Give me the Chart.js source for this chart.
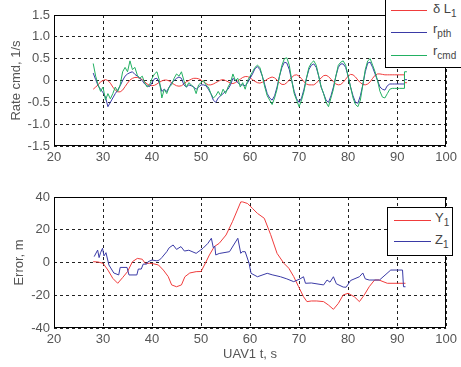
<!DOCTYPE html>
<html>
<head>
<meta charset="utf-8">
<script src="https://cdn.jsdelivr.net/npm/chart.js@4.4.0/dist/chart.umd.min.js"></script>
<style>
  body { margin: 0; background: #fff; }
  #wrap { position: relative; width: 461px; height: 367px; overflow: hidden; background: #fff;
          font-family: "Liberation Sans", Arial, sans-serif; color: #555; }
  canvas { position: absolute; left: 0; }
  .legend { position: absolute; background: #fff; border: 1px solid #000; }
  .swatch { position: absolute; height: 0; border-top: 1px solid; }
  .lbl { position: absolute; font-size: 13px; line-height: 15px; white-space: nowrap; color: #444; }
  .lbl sub { font-size: 10px; vertical-align: -4px; line-height: 0; }
</style>
</head>
<body>
<div id="wrap">
  <canvas id="rate_chart" width="461" height="183" style="top:0"></canvas>
  <canvas id="error_chart" width="461" height="184" style="top:183px"></canvas>

  <div class="legend" style="left:385px; top:-2px; width:90px; height:68px;"></div>
  <div class="swatch" style="left:391px; top:10px; width:36px; border-color:#f03c3c"></div>
  <div class="swatch" style="left:391px; top:32px; width:36px; border-color:#3a3aa6"></div>
  <div class="swatch" style="left:391px; top:55px; width:36px; border-color:#22b062"></div>
  <div class="lbl" style="left:433px; top:1px;">&delta; L<sub>1</sub></div>
  <div class="lbl" style="left:433px; top:21px;">r<sub>pth</sub></div>
  <div class="lbl" style="left:433px; top:43px;">r<sub>cmd</sub></div>

  <div class="legend" style="left:387px; top:207px; width:64px; height:47px;"></div>
  <div class="swatch" style="left:394px; top:220px; width:37px; border-color:#f03c3c"></div>
  <div class="swatch" style="left:394px; top:241px; width:37px; border-color:#3a3aa6"></div>
  <div class="lbl" style="left:435px; top:210px;">Y<sub>1</sub></div>
  <div class="lbl" style="left:435px; top:232px;">Z<sub>1</sub></div>
</div>
<script>
// top panel: rate commands
var rateTime = [28,28.5,29,29.5,30,30.5,31,31.5,32,32.5,
  33,33.5,34,34.5,35,35.5,36,36.5,37,37.5,
  38,38.5,39,39.5,40,40.5,41,41.5,42,42.5,
  43,43.5,44,44.5,45,45.5,46,46.5,47,47.5,
  48,48.5,49,49.5,50,50.5,51,51.5,52,52.5,
  53,53.5,54,54.5,55,55.5,56,56.5,57,57.5,
  58,58.5,59,59.5,60,60.5,61,61.5,62,62.5,
  63,63.5,64,64.5,65,65.5,66,66.5,67,67.5,
  68,68.5,69,69.5,70,70.5,71,71.5,72,72.5,
  73,73.5,74,74.5,75,75.5,76,76.5,77,77.5,
  78,78.5,79,79.5,80,80.5,81,81.5,82,82.5,
  83,83.5,84,84.5,85,85.5,86,86.5,87,87.5,
  88,88.5,89,89.5,90,90.5,91,91.5,91.5,92];

var deltaL1 = [-0.2,-0.15,-0.1,-0.03,0.0,0.02,0.0,-0.06,-0.15,-0.22,
  -0.26,-0.26,-0.22,-0.14,-0.06,0.01,0.05,0.07,0.07,0.05,
  0.02,-0.03,-0.08,-0.11,-0.12,-0.11,-0.08,-0.04,-0.01,0.01,
  0.01,-0.01,-0.05,-0.09,-0.12,-0.13,-0.12,-0.08,-0.03,0.0,
  0.03,0.05,0.05,0.04,0.01,-0.03,-0.07,-0.1,-0.1,-0.08,
  -0.05,-0.02,0.01,0.02,0.0,-0.03,-0.06,-0.07,-0.05,-0.01,
  0.03,0.07,0.09,0.09,0.06,0.02,-0.02,-0.05,-0.06,-0.04,
  -0.01,0.03,0.06,0.08,0.06,0.01,-0.05,-0.09,-0.09,-0.05,
  0.01,0.07,0.12,0.13,0.1,0.04,-0.03,-0.08,-0.1,-0.1,
  -0.1,-0.06,0.0,0.06,0.11,0.12,0.09,0.03,-0.03,-0.08,
  -0.1,-0.09,-0.04,0.03,0.1,0.14,0.13,0.08,0.01,-0.05,
  -0.09,-0.1,-0.08,-0.03,0.05,0.12,0.15,0.15,0.14,0.13,
  0.13,0.13,0.13,0.13,0.13,0.13,0.13,0.13,-0.05,-0.05];

var rPth = [0.17,0.02,-0.12,-0.2,-0.28,-0.38,-0.6,-0.5,-0.4,-0.3,
  -0.22,-0.12,0.0,0.1,0.15,0.18,0.2,0.14,0.1,0.05,
  0.0,-0.08,-0.12,-0.14,-0.05,0.04,0.05,-0.06,-0.25,-0.2,
  -0.25,-0.15,-0.05,0.0,0.05,0.08,0.05,-0.1,-0.15,-0.1,
  -0.12,-0.15,-0.2,-0.15,-0.1,-0.1,-0.12,-0.2,-0.3,-0.45,
  -0.5,-0.4,-0.35,-0.3,-0.25,-0.2,-0.1,0.05,0.0,-0.05,
  -0.1,-0.1,-0.12,-0.05,0.05,0.15,0.27,0.32,0.25,0.1,
  -0.1,-0.3,-0.4,-0.45,-0.35,-0.15,0.1,0.3,0.42,0.4,
  0.25,0.0,-0.25,-0.42,-0.5,-0.4,-0.2,0.05,0.25,0.35,
  0.38,0.3,0.1,-0.15,-0.3,-0.45,-0.5,-0.35,-0.15,0.1,
  0.3,0.38,0.38,0.3,0.1,-0.15,-0.35,-0.5,-0.52,-0.35,
  -0.1,0.2,0.4,0.42,0.3,0.15,0.0,-0.15,-0.2,-0.22,
  -0.12,-0.08,-0.08,-0.08,-0.08,-0.08,-0.08,-0.08,0.02,0.02];

var rCmd = [0.39,0.1,-0.1,-0.25,-0.15,-0.45,-0.3,-0.42,-0.3,-0.15,
  -0.25,-0.1,0.2,0.3,0.2,0.45,0.25,0.3,0.12,0.05,
  0.1,-0.05,-0.15,-0.1,0.05,0.15,0.2,0.0,-0.4,-0.2,
  -0.3,-0.15,-0.1,0.05,0.15,0.1,0.2,0.0,-0.15,-0.05,
  -0.1,-0.15,-0.3,-0.1,-0.05,0.0,-0.1,-0.15,-0.3,-0.4,
  -0.35,-0.25,-0.35,-0.2,-0.3,-0.15,-0.05,0.15,0.0,0.05,
  -0.15,-0.05,-0.2,0.0,0.1,0.2,0.3,0.35,0.3,0.1,
  -0.15,-0.35,-0.45,-0.55,-0.4,-0.2,0.1,0.35,0.5,0.52,
  0.35,0.0,-0.3,-0.45,-0.6,-0.45,-0.25,0.05,0.3,0.4,
  0.45,0.35,0.1,-0.15,-0.3,-0.5,-0.6,-0.4,-0.2,0.1,
  0.35,0.42,0.45,0.35,0.1,-0.15,-0.4,-0.55,-0.6,-0.45,
  -0.1,0.25,0.45,0.5,0.35,0.2,0.0,-0.25,-0.38,-0.4,
  -0.3,-0.2,-0.18,-0.18,-0.18,-0.18,-0.18,-0.18,0.2,0.2];

// bottom panel: position errors
var y1Time = [28,29,30,31,32,33,34,35,36,37,
  38,38.6,39.5,40.3,41.3,42.3,43.3,44,45,46,
  46.7,47.7,49,50,50.7,51.7,52.7,53.7,55.1,56.4,
  57.4,58.1,58.5,59.5,60.5,61.5,62.9,64.2,65.5,66.9,
  67.9,68.9,69.9,70.9,71.6,72.5,73.6,75,76,77,
  78,79,80,81.3,82.3,83.3,84.3,85.4,86.3,88,91.7];
var y1Err = [0.5,0.3,-0.5,-4.6,-9.7,-12.7,-9.2,-5.6,0.5,2.5,
  2.0,-0.5,-0.5,-0.8,-1.5,-4.6,-8.6,-13.7,-14.8,-13.7,
  -8.7,-6.4,-5.6,-5.5,-1.5,4.6,9.7,11.7,16.8,24.9,
  32,37,37,36,33,30,27,17,5.6,-0.5,
  -3.5,-8.6,-14.8,-20.9,-23.9,-23.5,-23.5,-23.9,-26,-28.6,
  -25,-19.8,-18.8,-21,-23.9,-19.8,-14.8,-10.7,-10.7,-12.7,-12.7];

var z1Time = [28.2,28.9,29.2,29.5,29.9,30.2,30.6,31.2,32.2,33.2,
  33.5,34.9,35.3,36.9,37.2,37.8,38.2,38.9,39.2,40,
  41,41.5,42,43,43.5,44.3,45,45.9,46.6,47.5,
  49,50.4,51.4,52.1,52.5,52.8,53,53.7,55.8,57.5,
  58.1,58.4,59,59.8,60.2,61.5,63.5,64.5,66.2,67.5,
  68.9,70.2,70.9,71.3,72.5,75,75.7,76.3,77,77.6,
  79,79.6,80.5,82.3,83,83.5,84.3,86.4,88.7,91.1,91.3,91.7];
var z1Err = [3.6,7.6,3,6,8.7,4,6,-1.5,-6.4,-7.6,
  -3,-3,-7.6,-7.6,-4,-4,-1,-1,0.5,1.5,
  1,1.5,3,6.6,9,10.7,8,9.7,7,7.5,
  5.6,8.7,11.7,14.8,9,10,4.6,5.5,6.6,14.8,
  5.6,6.6,6.6,-0.5,-6.6,-8.7,-6.6,-7.5,-8.7,-10,
  -11.7,-10,-8.7,-12.7,-12.5,-13.7,-10.7,-12,-8.7,-13,
  -15,-15.1,-11,-8.7,-6.4,-10,-10.7,-10.7,-4.6,-4.6,-14.8,-14.8];

var red = '#f03c3c';
var blue = '#3a3aa6';
var green = '#22b062';
var textColor = '#555';

function toPoints(xs, ys) {
  return xs.map(function(x, i) { return {x: x, y: ys[i]}; });
}

// order: lower value is drawn on top (later matlab plot goes on top)
function line(data, color, order) {
  return {data: data, borderColor: color, borderWidth: 1, pointRadius: 0,
          fill: false, tension: 0, order: order};
}

// matlab style closed axes box
var boxPlugin = {
  id: 'box',
  afterDatasetsDraw: function(chart) {
    var a = chart.chartArea;
    var ctx = chart.ctx;
    ctx.save();
    ctx.strokeStyle = '#000';
    ctx.lineWidth = 1;
    ctx.strokeRect(Math.round(a.left) + 0.5, Math.round(a.top) + 0.5,
      Math.round(a.right - a.left) - 1, Math.round(a.bottom - a.top) - 1);
    ctx.restore();
  }
};

function makeOptions(o) {
  return {
    responsive: false,
    animation: false,
    layout: {padding: {top: o.padTop, right: 10, left: 0, bottom: 0}},
    plugins: {legend: {display: false}, tooltip: {enabled: false}},
    scales: {
      x: {
        type: 'linear', min: 20, max: 100,
        afterFit: function(s) { s.height = o.xHeight; },
        ticks: {stepSize: 10, color: textColor, padding: 4, maxRotation: 0,
                font: {family: 'Liberation Sans', size: 13}},
        grid: {color: '#222', drawTicks: false},
        border: {display: false, dash: [3, 3]},
        title: {display: !!o.xTitle, text: o.xTitle || '', color: textColor,
                font: {family: 'Liberation Sans', size: 13}, padding: {top: 0, bottom: 5}}
      },
      y: {
        min: o.yMin, max: o.yMax,
        afterFit: function(s) { s.width = 54; },
        ticks: {stepSize: o.yStep, color: textColor, padding: 4,
                font: {family: 'Liberation Sans', size: 13}},
        grid: {color: '#222', drawTicks: false},
        border: {display: false, dash: [3, 3]},
        title: {display: true, text: o.yTitle, color: textColor,
                font: {family: 'Liberation Sans', size: 13}, padding: {top: o.yTitlePad, bottom: 0}}
      }
    }
  };
}

var rate_chart = new Chart(document.getElementById('rate_chart'), {
  type: 'line',
  data: {
    datasets: [
      line(toPoints(rateTime, deltaL1), red, 2),
      line(toPoints(rateTime, rPth), blue, 1),
      line(toPoints(rateTime, rCmd), green, 0)
    ]
  },
  options: makeOptions({padTop: 15, xHeight: 37, yMin: -1.5, yMax: 1.5, yStep: 0.5,
    yTitle: 'Rate cmd, 1/s', yTitlePad: 9}),
  plugins: [boxPlugin]
});

var error_chart = new Chart(document.getElementById('error_chart'), {
  type: 'line',
  data: {
    datasets: [
      line(toPoints(y1Time, y1Err), red, 1),
      line(toPoints(z1Time, z1Err), blue, 0)
    ]
  },
  options: makeOptions({padTop: 14, xHeight: 39, yMin: -40, yMax: 40, yStep: 20,
    yTitle: 'Error, m', yTitlePad: 12, xTitle: 'UAV1 t, s'}),
  plugins: [boxPlugin]
});
</script>
</body>
</html>
